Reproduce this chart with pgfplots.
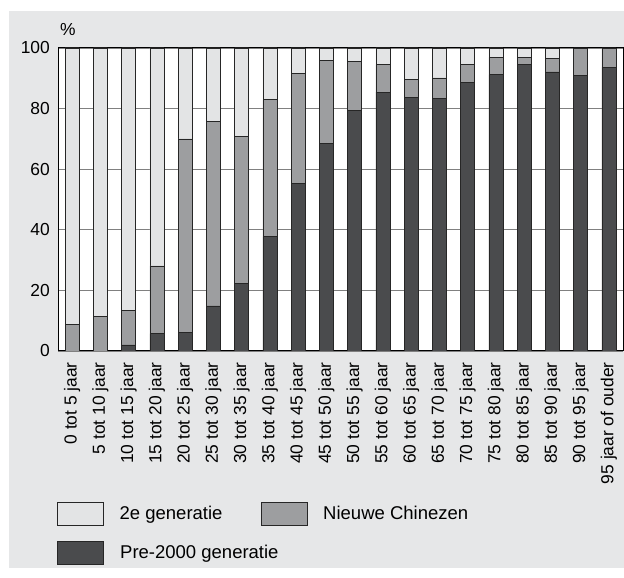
\documentclass[border=0pt]{standalone}
\usepackage{pgfplots}
\pgfplotsset{compat=1.18}
\usepackage{fontspec}
\setmainfont{Liberation Sans}
\definecolor{bg}{HTML}{E6E7E8}
\definecolor{lightc}{HTML}{E3E4E5}
\definecolor{midc}{HTML}{9D9EA0}
\definecolor{darkc}{HTML}{4A4B4D}
\definecolor{gridc}{HTML}{808080}
\newcommand{\ff}{\fontsize{17.4}{20}\selectfont}
\newcommand{\fl}{\fontsize{18.5}{21}\selectfont}
\pgfplotsset{mylegend/.style={legend image code/.code={\draw[##1] (0pt,-11.5pt) rectangle (46pt,11.5pt);}}}
\begin{document}
\begin{tikzpicture}[x=1pt,y=1pt]
\useasboundingbox (0,0) rectangle (624,578);
\fill[bg] (9,10) rectangle (624,567);
\begin{axis}[
  name=ax,
  at={(58pt,227pt)}, anchor=south west, scale only axis,
  width=565pt, height=303pt,
  ybar stacked, bar width=14pt,
  xmin=-0.5, xmax=19.5, ymin=0, ymax=100,
  ytick={0,20,40,60,80,100},
  xtick={0,...,19},
  xticklabels={0 tot 5 jaar,5 tot 10 jaar,10 tot 15 jaar,15 tot 20 jaar,20 tot 25 jaar,25 tot 30 jaar,30 tot 35 jaar,35 tot 40 jaar,40 tot 45 jaar,45 tot 50 jaar,50 tot 55 jaar,55 tot 60 jaar,60 tot 65 jaar,65 tot 70 jaar,70 tot 75 jaar,75 tot 80 jaar,80 tot 85 jaar,85 tot 90 jaar,90 tot 95 jaar,95 jaar of ouder},
  x tick label style={rotate=90, anchor=east, inner sep=0pt, font=\ff},
  y tick label style={anchor=east, inner sep=0pt, font=\ff},
  xticklabel shift=11pt, yticklabel shift=8pt,
  major tick length=0pt, tick style={draw=none},
  ymajorgrids, grid style={gridc, line width=0.9pt},
  axis line style={black, line width=1pt},
  axis background/.style={fill=white},
  /pgf/number format/assume math mode=true,
  every axis plot/.append style={draw=black!85, line width=0.7pt},
  reverse legend, legend columns=2,
  legend cell align=left,
  legend style={draw=none, fill=none, at={(-0.0018,-0.498)}, anchor=north west,
    inner sep=0pt, outer sep=0pt, column sep=16pt, row sep=15pt, font=\fl,
    nodes={inner sep=0pt},
    /tikz/every even column/.append style={column sep=38pt}},
]
\addplot[fill=darkc, mylegend] coordinates {(0,0) (1,0) (2,2.0) (3,5.7) (4,6.2) (5,14.9) (6,22.3) (7,37.7) (8,55.2) (9,68.4) (10,79.3) (11,85.4) (12,83.8) (13,83.4) (14,88.7) (15,91.2) (16,94.6) (17,92.1) (18,90.9) (19,93.6)};
\addlegendentry{\makebox[0pt][l]{Pre-2000 generatie}}
\addplot[fill=midc, mylegend] coordinates {(0,8.7) (1,11.3) (2,11.5) (3,22.4) (4,63.8) (5,60.8) (6,48.4) (7,45.2) (8,36.3) (9,27.5) (10,16.3) (11,9.1) (12,5.9) (13,6.7) (14,5.8) (15,5.7) (16,2.3) (17,4.5) (18,9.1) (19,6.4)};
\addlegendentry{Nieuwe Chinezen}
\addplot[fill=lightc, mylegend] coordinates {(0,91.3) (1,88.7) (2,86.5) (3,71.9) (4,30) (5,24.3) (6,29.3) (7,17.1) (8,8.5) (9,4.1) (10,4.4) (11,5.5) (12,10.3) (13,9.9) (14,5.5) (15,3.1) (16,3.1) (17,3.4) (18,0) (19,0)};
\addlegendentry{2e generatie}
\end{axis}
\node[anchor=base west, inner sep=0pt, font=\ff] at ([xshift=2pt,yshift=12pt]ax.north west) {\%};
\end{tikzpicture}
\end{document}
